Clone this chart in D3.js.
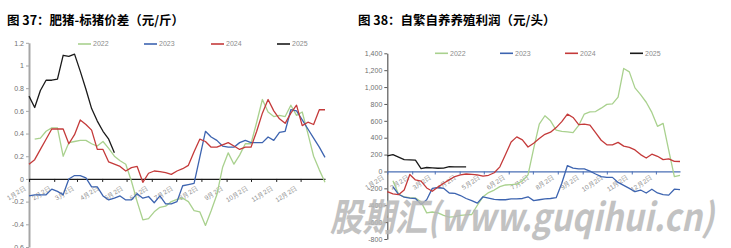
<!DOCTYPE html>
<html>
<head>
<meta charset="utf-8">
<script src="https://cdn.jsdelivr.net/npm/d3@7"></script>
<style>
  body { margin:0; background:#fff; }
  svg { display:block; font-family:"Noto Sans CJK SC","Noto Sans",sans-serif; }
</style>
</head>
<body>
<div id="wrap"></div>
<script>
// ---- data ----
var seriesNames = ['2022', '2023', '2024', '2025'];
var seriesColors = ['#a9d18e', '#3d64b0', '#c43a3a', '#1a1a1a'];
var monthLabels = ['1月2日','2月2日','3月2日','4月2日','5月2日','6月2日','7月2日','8月2日','9月2日','10月2日','11月2日','12月2日'];

// 图37 肥猪-标猪价差 (元/斤), weekly
var spread2022 = [null, 0.35, 0.36, 0.42, 0.45, 0.45, 0.20, 0.32, 0.33, 0.34, 0.34, 0.31, 0.29, 0.33, 0.27, 0.20, 0.16, 0.13, -0.02, -0.20, -0.36, -0.35, -0.29, -0.25, -0.24, -0.20, -0.18, -0.17, -0.20, -0.28, -0.29, -0.41, -0.28, -0.14, 0.10, 0.23, 0.13, 0.21, 0.31, 0.31, 0.50, 0.70, 0.59, 0.55, 0.56, 0.55, 0.65, 0.56, 0.59, 0.40, 0.20, 0.08, -0.03];
var spread2023 = [-0.15, -0.14, -0.14, -0.14, -0.09, -0.11, -0.14, 0.00, 0.03, 0.03, 0.01, -0.07, -0.07, -0.15, -0.185, -0.17, -0.15, -0.185, -0.185, -0.13, -0.17, -0.155, -0.21, -0.15, -0.22, -0.22, -0.20, -0.06, -0.05, -0.04, 0.19, 0.42, 0.37, 0.34, 0.29, 0.28, 0.28, 0.32, 0.34, 0.32, 0.32, 0.32, 0.37, 0.34, 0.41, 0.42, 0.61, 0.60, 0.52, 0.44, 0.36, 0.28, 0.19];
var spread2024 = [0.13, 0.17, 0.26, 0.35, 0.44, 0.44, 0.44, 0.31, 0.39, 0.52, 0.48, 0.43, 0.26, 0.26, 0.15, 0.13, 0.11, 0.07, 0.10, 0.11, -0.03, 0.05, 0.07, 0.065, 0.055, 0.04, 0.07, 0.09, 0.12, 0.24, 0.35, 0.33, 0.28, 0.28, 0.30, 0.32, 0.29, 0.26, 0.28, 0.28, 0.42, 0.58, 0.70, 0.60, 0.53, 0.49, 0.58, 0.65, 0.47, 0.50, 0.48, 0.61, 0.61];
var spread2025 = [0.73, 0.63, 0.78, 0.87, 0.87, 0.88, 1.09, 1.08, 1.10, 0.95, 0.79, 0.62, 0.51, 0.42, 0.35, 0.23];
var spreadTicks = [-0.6, -0.4, -0.2, 0, 0.2, 0.4, 0.6, 0.8, 1, 1.2];

// 图38 自繁自养养殖利润 (元/头), weekly
var profit2022 = [null, -110, -270, -300, -310, -315, -360, -490, -480, -490, -520, -540, -535, -520, -515, -510, -400, -300, -250, -220, -180, -160, -155, -150, -110, -40, 270, 560, 660, 600, 490, 475, 470, 460, 545, 680, 705, 710, 750, 795, 800, 880, 1220, 1180, 990, 910, 820, 700, 535, 570, 250, -60, -45];
var profit2023 = [null, -180, -270, -305, -315, -320, -390, -335, -200, -190, -200, -255, -260, -285, -320, -345, -375, -300, -315, -330, -335, -335, -325, -325, -320, -300, -345, -335, -325, -320, -310, -140, 70, 40, 30, 30, 5, -30, -60, -70, -70, -130, -165, -200, -240, -220, -255, -210, -255, -275, -280, -210, -215];
var profit2024 = [-240, -265, -275, -220, -35, -100, -115, -195, -235, -185, -140, -100, -60, -40, -30, -35, -40, -55, -45, -15, 55, 200, 350, 410, 375, 290, 335, 390, 440, 465, 520, 590, 680, 640, 555, 560, 550, 460, 370, 316, 316, 345, 300, 285, 255, 200, 160, 205, 180, 140, 150, 120, 118];
var profit2025 = [185, 200, 170, 140, 138, 135, 35, 47, 42, 38, 40, 58, 55, 55, 55];
var profitTicks = [-800, -600, -400, -200, 0, 200, 400, 600, 800, 1000, 1200, 1400];

var startDay = new Date(2025, 0, 2);
var weekDates = d3.range(53).map(function(i){ return d3.timeDay.offset(startDay, i * 7); });
var monthDates = d3.range(12).map(function(m){ return new Date(2025, m, 2); });

var plainFormat = d3.formatLocale({decimal:'.', thousands:',', grouping:[3], currency:['',''], minus:'-'});

// ---- chart ----
var LineChart = function(opts){
  this.svg = opts.svg;
  this.opts = opts;
}

LineChart.prototype.draw = function(){
  this.createScales();
  this.addTitle();
  this.addAxes();
  this.addLines();
  this.addLegend();
}

LineChart.prototype.createScales = function(){
  var o = this.opts;
  this.x = d3.scaleTime()
    .domain([weekDates[0], weekDates[52]])
    .range([o.left, o.right]);
  this.y = d3.scaleLinear()
    .domain(o.yDomain)
    .range([o.bottom, o.top]);
}

LineChart.prototype.addTitle = function(){
  var o = this.opts;
  this.svg.append('text')
    .attr('x', o.titleX)
    .attr('y', 25)
    .attr('font-size', '12.5px')
    .attr('font-weight', 'bold')
    .attr('fill', '#000')
    .text(o.title);
}

LineChart.prototype.addAxes = function(){
  var o = this.opts, self = this;
  var yAxis = d3.axisLeft(this.y)
    .tickValues(o.yTicks)
    .tickFormat(o.yFormat)
    .tickSize(3)
    .tickSizeOuter(0)
    .tickPadding(2);
  var gy = this.svg.append('g')
    .attr('class', 'y-axis')
    .attr('transform', 'translate(' + o.left + ',0)')
    .call(yAxis);
  gy.select('.domain').attr('stroke', o.yAxisColor).attr('stroke-width', o.yAxisWidth);
  gy.selectAll('.tick line').attr('stroke', o.yAxisColor);
  gy.selectAll('.tick text').attr('fill', '#6f6f6f').attr('font-size', '7px').attr('font-family', 'Liberation Sans, sans-serif');

  var xAxis = d3.axisBottom(this.x)
    .tickValues(monthDates)
    .tickFormat(function(d, i){ return monthLabels[i]; })
    .tickSize(3)
    .tickSizeOuter(0);
  var gx = this.svg.append('g')
    .attr('class', 'x-axis')
    .attr('transform', 'translate(0,' + this.y(0) + ')')
    .call(xAxis);
  gx.select('.domain').attr('stroke', o.zeroColor).attr('stroke-width', 1.2);
  gx.selectAll('.tick line').attr('stroke', o.zeroColor);
  gx.selectAll('.tick text')
    .attr('fill', '#8c8c8c')
    .attr('font-size', '6.5px')
    .attr('text-anchor', 'end')
    .attr('x', 0).attr('y', 0).attr('dy', 0)
    .attr('transform', 'translate(-3,' + o.labelDy + ') rotate(-33)');
}

LineChart.prototype.addLines = function(){
  var self = this;
  var lineGen = d3.line()
    .defined(function(d){ return d.v != null; })
    .x(function(d){ return self.x(d.date); })
    .y(function(d){ return self.y(d.v); });
  this.opts.series.forEach(function(values, k){
    var pts = values.map(function(v, i){ return {date: weekDates[i], v: v}; });
    self.svg.append('path')
      .attr('class', 'line-path')
      .attr('d', lineGen(pts))
      .attr('fill', 'none')
      .attr('stroke', seriesColors[k])
      .attr('stroke-width', 1.3)
      .attr('stroke-linejoin', 'round');
  });
}

LineChart.prototype.addLegend = function(){
  var o = this.opts, self = this;
  seriesNames.forEach(function(name, k){
    var lx = o.legendX[k];
    self.svg.append('line')
      .attr('x1', lx).attr('x2', lx + 13)
      .attr('y1', o.legendY).attr('y2', o.legendY)
      .attr('stroke', seriesColors[k])
      .attr('stroke-width', 1.6);
    self.svg.append('text')
      .attr('x', lx + 15)
      .attr('y', o.legendY)
      .attr('dy', '0.35em')
      .attr('font-size', '7px')
      .attr('font-family', 'Liberation Sans, sans-serif')
      .attr('fill', '#8c8c8c')
      .text(name);
  });
}

var svg = d3.select('#wrap').append('svg')
  .attr('width', 731)
  .attr('height', 248);

new LineChart({
  svg: svg,
  title: '图 37：肥猪-标猪价差（元/斤）',
  titleX: 7,
  left: 29, right: 325, top: 42.8, bottom: 247,
  yDomain: [-0.6, 1.2],
  yTicks: spreadTicks,
  yFormat: function(d){ return String(+d.toFixed(1)); },
  yAxisColor: '#a6a6a6', yAxisWidth: 2,
  zeroColor: '#1a1a1a',
  labelDy: 10,
  series: [spread2022, spread2023, spread2024, spread2025],
  legendX: [78, 144, 211, 277], legendY: 44
}).draw();

new LineChart({
  svg: svg,
  title: '图 38：自繁自养养殖利润（元/头）',
  titleX: 358,
  left: 387.3, right: 680, top: 53.3, bottom: 239,
  yDomain: [-800, 1400],
  yTicks: profitTicks,
  yFormat: plainFormat.format(','),
  yAxisColor: '#595959', yAxisWidth: 1.2,
  zeroColor: '#4a6fb5',
  labelDy: 7,
  series: [profit2022, profit2023, profit2024, profit2025],
  legendX: [435, 500, 565, 630], legendY: 53.3
}).draw();

// watermark
svg.append('text')
  .attr('x', 330)
  .attr('y', 231)
  .attr('font-size', '38px')
  .attr('font-weight', 'bold')
  .attr('font-style', 'italic')
  .attr('fill', '#b8b8b8')
  .attr('opacity', 0.85)
  .attr('textLength', 384)
  .attr('lengthAdjust', 'spacingAndGlyphs')
  .text('股期汇(www.guqihui.cn)');
</script>
</body>
</html>
